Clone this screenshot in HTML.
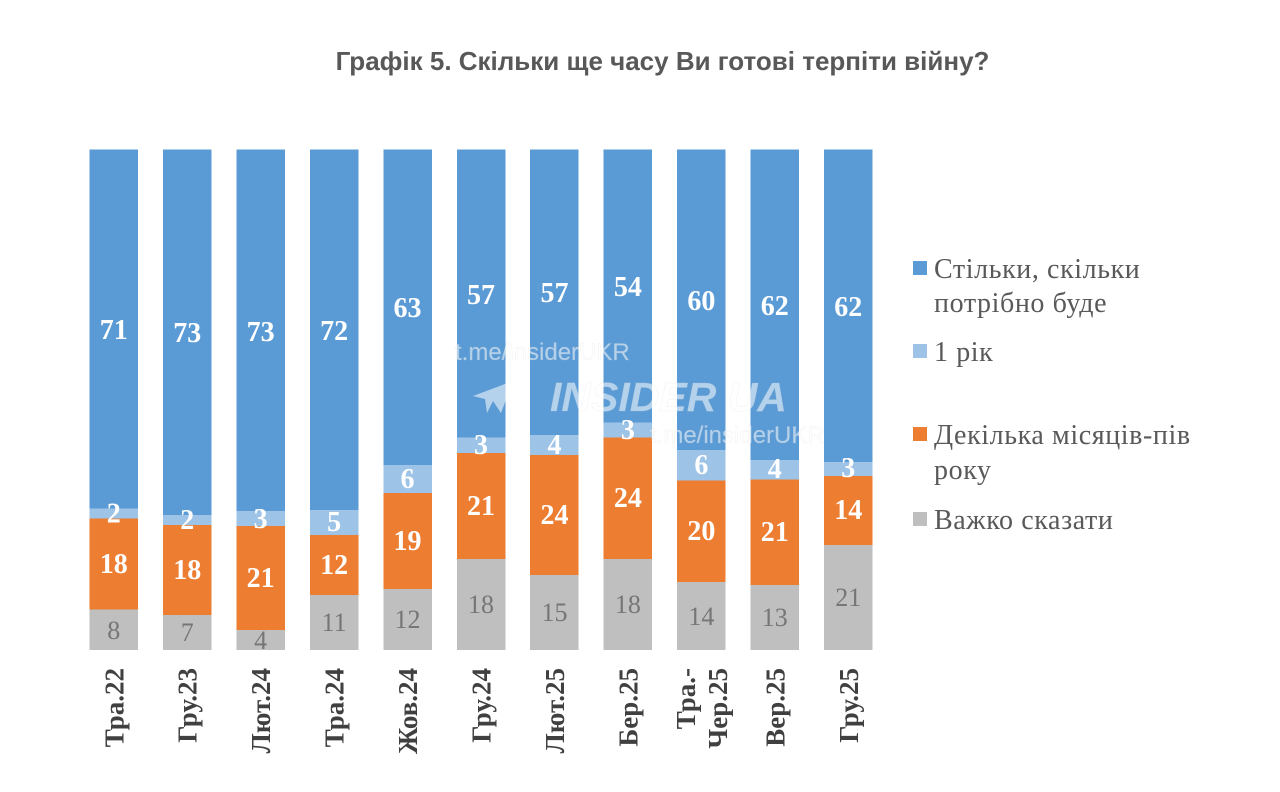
<!DOCTYPE html>
<html><head><meta charset="utf-8"><style>
html,body{margin:0;padding:0;background:#fff;}
svg{display:block;}
</style></head><body>
<svg width="1280" height="792" viewBox="0 0 1280 792" xmlns="http://www.w3.org/2000/svg">
<rect width="1280" height="792" fill="#fff"/>
<text x="662.5" y="70" text-anchor="middle" font-family="Liberation Sans, sans-serif" font-weight="bold" font-size="26" fill="#585858">Графік 5. Скільки ще часу Ви готові терпіти війну?</text>

<g shape-rendering="crispEdges">
<rect x="89.5" y="149.5" width="48.5" height="358.9" fill="#5B9BD5"/>
<rect x="89.5" y="508.4" width="48.5" height="10.1" fill="#9DC3E6"/>
<rect x="89.5" y="518.5" width="48.5" height="91" fill="#ED7D31"/>
<rect x="89.5" y="609.5" width="48.5" height="40.5" fill="#BFBFBF"/>
<rect x="162.95" y="149.5" width="48.5" height="365.4" fill="#5B9BD5"/>
<rect x="162.95" y="514.9" width="48.5" height="10" fill="#9DC3E6"/>
<rect x="162.95" y="524.9" width="48.5" height="90.1" fill="#ED7D31"/>
<rect x="162.95" y="615" width="48.5" height="35" fill="#BFBFBF"/>
<rect x="236.4" y="149.5" width="48.5" height="361.7" fill="#5B9BD5"/>
<rect x="236.4" y="511.2" width="48.5" height="14.9" fill="#9DC3E6"/>
<rect x="236.4" y="526.1" width="48.5" height="104.1" fill="#ED7D31"/>
<rect x="236.4" y="630.2" width="48.5" height="19.8" fill="#BFBFBF"/>
<rect x="309.85" y="149.5" width="48.5" height="360.4" fill="#5B9BD5"/>
<rect x="309.85" y="509.9" width="48.5" height="25" fill="#9DC3E6"/>
<rect x="309.85" y="534.9" width="48.5" height="60.1" fill="#ED7D31"/>
<rect x="309.85" y="595" width="48.5" height="55" fill="#BFBFBF"/>
<rect x="383.3" y="149.5" width="48.5" height="315.3" fill="#5B9BD5"/>
<rect x="383.3" y="464.8" width="48.5" height="28" fill="#9DC3E6"/>
<rect x="383.3" y="492.8" width="48.5" height="96.1" fill="#ED7D31"/>
<rect x="383.3" y="588.9" width="48.5" height="61.1" fill="#BFBFBF"/>
<rect x="456.75" y="149.5" width="48.5" height="288.2" fill="#5B9BD5"/>
<rect x="456.75" y="437.7" width="48.5" height="15.1" fill="#9DC3E6"/>
<rect x="456.75" y="452.8" width="48.5" height="106.2" fill="#ED7D31"/>
<rect x="456.75" y="559" width="48.5" height="91" fill="#BFBFBF"/>
<rect x="530.2" y="149.5" width="48.5" height="285.3" fill="#5B9BD5"/>
<rect x="530.2" y="434.8" width="48.5" height="20" fill="#9DC3E6"/>
<rect x="530.2" y="454.8" width="48.5" height="120.1" fill="#ED7D31"/>
<rect x="530.2" y="574.9" width="48.5" height="75.1" fill="#BFBFBF"/>
<rect x="603.65" y="149.5" width="48.5" height="273" fill="#5B9BD5"/>
<rect x="603.65" y="422.5" width="48.5" height="15.2" fill="#9DC3E6"/>
<rect x="603.65" y="437.7" width="48.5" height="121.3" fill="#ED7D31"/>
<rect x="603.65" y="559" width="48.5" height="91" fill="#BFBFBF"/>
<rect x="677.1" y="149.5" width="48.5" height="300.3" fill="#5B9BD5"/>
<rect x="677.1" y="449.8" width="48.5" height="30.5" fill="#9DC3E6"/>
<rect x="677.1" y="480.3" width="48.5" height="101.6" fill="#ED7D31"/>
<rect x="677.1" y="581.9" width="48.5" height="68.1" fill="#BFBFBF"/>
<rect x="750.55" y="149.5" width="48.5" height="310.3" fill="#5B9BD5"/>
<rect x="750.55" y="459.8" width="48.5" height="19.5" fill="#9DC3E6"/>
<rect x="750.55" y="479.3" width="48.5" height="105.6" fill="#ED7D31"/>
<rect x="750.55" y="584.9" width="48.5" height="65.1" fill="#BFBFBF"/>
<rect x="824" y="149.5" width="48.5" height="312.3" fill="#5B9BD5"/>
<rect x="824" y="461.8" width="48.5" height="14" fill="#9DC3E6"/>
<rect x="824" y="475.8" width="48.5" height="69.1" fill="#ED7D31"/>
<rect x="824" y="544.9" width="48.5" height="105.1" fill="#BFBFBF"/>
</g>

<g font-family="Liberation Serif, serif" font-weight="bold" font-size="28" fill="#fff" text-anchor="middle">
<text x="113.75" y="339">71</text><text x="113.75" y="522.5">2</text><text x="113.75" y="573">18</text>
<text x="187.2" y="342">73</text><text x="187.2" y="529">2</text><text x="187.2" y="579">18</text>
<text x="260.65" y="341">73</text><text x="260.65" y="528">3</text><text x="260.65" y="587">21</text>
<text x="334.1" y="340">72</text><text x="334.1" y="531">5</text><text x="334.1" y="574">12</text>
<text x="407.55" y="317">63</text><text x="407.55" y="488">6</text><text x="407.55" y="550">19</text>
<text x="481" y="304">57</text><text x="481" y="454">3</text><text x="481" y="515">21</text>
<text x="554.45" y="302">57</text><text x="554.45" y="454">4</text><text x="554.45" y="524">24</text>
<text x="627.9" y="296">54</text><text x="627.9" y="439">3</text><text x="627.9" y="507">24</text>
<text x="701.35" y="310">60</text><text x="701.35" y="474">6</text><text x="701.35" y="540">20</text>
<text x="774.8" y="315">62</text><text x="774.8" y="478">4</text><text x="774.8" y="541">21</text>
<text x="848.25" y="316">62</text><text x="848.25" y="477">3</text><text x="848.25" y="519">14</text>
</g>
<g font-family="Liberation Serif, serif" font-size="26" fill="#767676" text-anchor="middle">
<text x="113.75" y="639">8</text>
<text x="187.2" y="641">7</text>
<text x="260.65" y="649">4</text>
<text x="334.1" y="631">11</text>
<text x="407.55" y="628">12</text>
<text x="481" y="613">18</text>
<text x="554.45" y="621">15</text>
<text x="627.9" y="613">18</text>
<text x="701.35" y="625">14</text>
<text x="774.8" y="626">13</text>
<text x="848.25" y="606">21</text>
</g>

<g font-family="Liberation Serif, serif" font-weight="bold" font-size="27" fill="#404040" text-anchor="end">
<text transform="translate(123.25,668) rotate(-90)">Тра.22</text>
<text transform="translate(196.7,668) rotate(-90)">Гру.23</text>
<text transform="translate(270.15,668) rotate(-90)">Лют.24</text>
<text transform="translate(343.6,668) rotate(-90)">Тра.24</text>
<text transform="translate(417.05,668) rotate(-90)">Жов.24</text>
<text transform="translate(490.5,668) rotate(-90)">Гру.24</text>
<text transform="translate(563.95,668) rotate(-90)">Лют.25</text>
<text transform="translate(637.4,668) rotate(-90)">Бер.25</text>
<text transform="translate(695,668) rotate(-90)">Тра.-</text>
<text transform="translate(727,668) rotate(-90)">Чер.25</text>
<text transform="translate(784.3,668) rotate(-90)">Вер.25</text>
<text transform="translate(857.75,668) rotate(-90)">Гру.25</text>
</g>

<rect x="913" y="261" width="14" height="14" fill="#5B9BD5"/>
<rect x="913" y="344" width="14" height="14" fill="#9DC3E6"/>
<rect x="913" y="427" width="14" height="14" fill="#ED7D31"/>
<rect x="913" y="512" width="14" height="14" fill="#BFBFBF"/>
<g font-family="Liberation Serif, serif" font-size="28" fill="#595959" letter-spacing="0.6">
<text x="934" y="278">Стільки, скільки</text>
<text x="934" y="312">потрібно буде</text>
<text x="934" y="361">1 рік</text>
<text x="934" y="444">Декілька місяців-пів</text>
<text x="934" y="479">року</text>
<text x="934" y="529">Важко сказати</text>
</g>

<g opacity="0.55">
<text x="455" y="360" font-family="Liberation Sans, sans-serif" font-size="24" fill="#fff" stroke="#d8d8d8" stroke-width="0.3">t.me/insiderUKR</text>
<text x="650" y="443" font-family="Liberation Sans, sans-serif" font-size="24" fill="#fff" stroke="#d8d8d8" stroke-width="0.3">t.me/insiderUKR</text>
<text x="550" y="411" font-family="Liberation Sans, sans-serif" font-weight="bold" font-style="italic" font-size="41" fill="#fff" stroke="#d8d8d8" stroke-width="0.3">INSIDER UA</text>
<path d="M473,396 L513,381 L501,413 L493,401 Z M493,401 L487,413 L485,399 Z" fill="#fff"/>
</g>
</svg>
</body></html>
